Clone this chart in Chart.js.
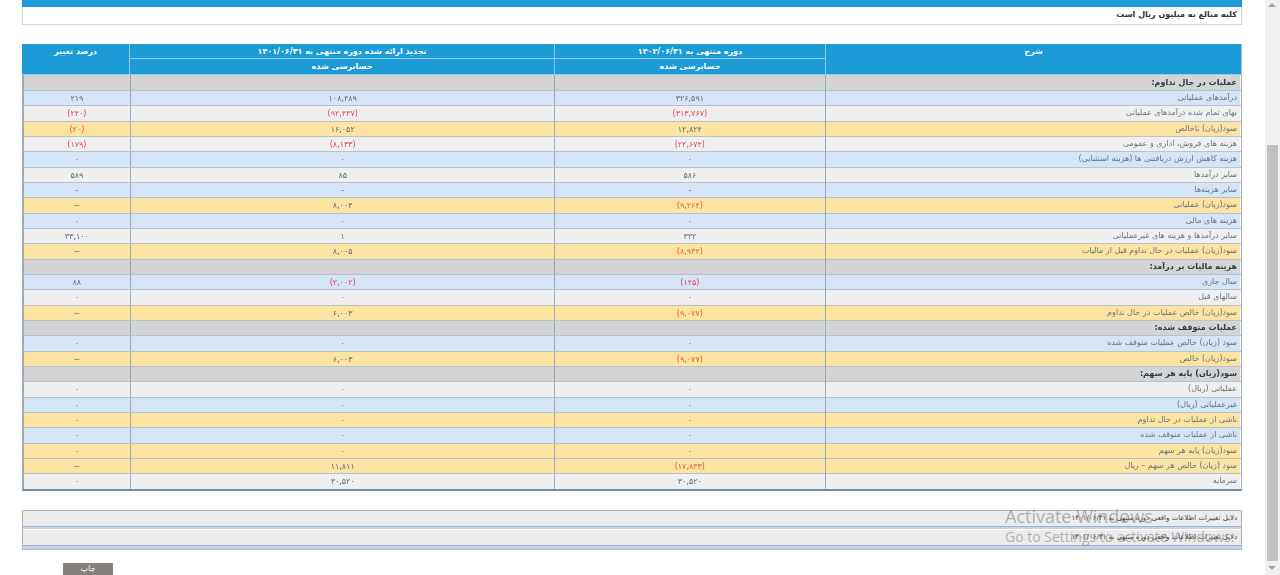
<!DOCTYPE html>
<html lang="fa">
<head>
<meta charset="utf-8">
<script src="https://cdn.jsdelivr.net/npm/chart.js@4/dist/chart.umd.min.js"></script>
<style>
  html, body { margin: 0; padding: 0; background: #fff; }
  body { width: 1280px; height: 575px; overflow: hidden; position: relative; font-family: "DejaVu Sans", Tahoma, sans-serif; }
  .abs { position: absolute; box-sizing: border-box; }
  .topbar { left: 22px; top: 0; width: 1220px; height: 7px; background: #1c9bd7; }
  .unitbox { left: 22px; top: 7px; width: 1220px; height: 18px; border: 1px solid #d4d4d4; border-top: 0; direction: rtl; font-size: 8px; font-weight: bold; color: #333; padding: 3px 4px 0 0; }
  .hd { background: #1c9bd7; color: #fff; font-size: 8px; font-weight: bold; text-align: center; direction: rtl; border-right: 1px solid #8fcbea; border-bottom: 1px solid #8fcbea; }
  .frame { left: 22px; top: 75px; width: 1220px; height: 416px; border-left: 1px solid #a9b4be; border-right: 1px solid #a9b4be; border-bottom: 2px solid #6d8fae; }
  .notes { left: 22px; top: 510px; width: 1220px; height: 40px; border: 1px solid #b5b5b5; }
  .note { position: absolute; left: 0; width: 100%; height: 15px; background: #ececec; direction: rtl; font-size: 7px; color: #444; padding: 3px 4px 0 0; box-sizing: border-box; }
  .noteline { position: absolute; left: 0; width: 100%; height: 3px; background: #c3d3e8; border-top: 1px solid #9db3cf; box-sizing: border-box; }
  .wm1 { left: 1005px; top: 504px; font-family: "Open Sans", sans-serif; font-size: 18px; color: rgba(120,120,120,0.55); }
  .wm2 { left: 1005px; top: 527px; font-family: "Open Sans", sans-serif; font-size: 14px; color: rgba(120,120,120,0.55); }
  .sbar { left: 1265px; top: 0; width: 15px; height: 575px; background: #f1f1f1; }
  .sthumb { left: 1267px; top: 145px; width: 11px; height: 416px; background: #c1c1c1; }
  .arrow { left: 1268px; width: 0; height: 0; border-left: 4px solid transparent; border-right: 4px solid transparent; }
  .btn { left: 63px; top: 563px; width: 50px; height: 14px; background: #858079; color: #fff; font-size: 8px; text-align: center; padding-top: 1px; }
</style>
</head>
<body>
<div class="abs topbar"></div>
<div class="abs unitbox">کلیه مبالغ به میلیون ریال است</div>

<div class="abs hd" style="left:826px;top:44px;width:416px;height:31px;line-height:16px;">شرح</div>
<div class="abs hd" style="left:555px;top:44px;width:271px;height:15px;line-height:15px;">دوره منتهی به ۱۴۰۲/۰۶/۳۱</div>
<div class="abs hd" style="left:555px;top:59px;width:271px;height:16px;line-height:15px;">حسابرسی شده</div>
<div class="abs hd" style="left:130px;top:44px;width:425px;height:15px;line-height:15px;">تجدید ارائه شده دوره منتهی به ۱۴۰۱/۰۶/۳۱</div>
<div class="abs hd" style="left:130px;top:59px;width:425px;height:16px;line-height:15px;">حسابرسی شده</div>
<div class="abs hd" style="left:22px;top:44px;width:108px;height:31px;line-height:16px;">درصد تغییر</div>

<div class="abs frame"><canvas id="statement" dir="rtl"></canvas></div>

<div class="abs notes">
  <div class="note" style="top:0;">دلایل تغییرات اطلاعات واقعی دوره منتهی به ۱۴۰۱/۰۶/۳۱</div>
  <div class="noteline" style="top:15px;"></div>
  <div class="note" style="top:19px;">دلایل تغییرات اطلاعات واقعی دوره منتهی به ۱۴۰۱/۰۶/۳۱</div>
  <div class="noteline" style="top:34px;height:4px;"></div>
</div>
<div class="abs wm1">Activate Windows</div>
<div class="abs wm2">Go to Settings to activate Windows.</div>

<div class="abs sbar"></div>
<div class="abs sthumb"></div>
<div class="abs arrow" style="top:3px;border-bottom:4px solid #a3a3a3;"></div>
<div class="abs arrow" style="top:566px;border-top:4px solid #a3a3a3;"></div>
<div class="abs btn">چاپ</div>

<script>
'use strict';

const ROW_LABELS = [
  'عملیات در حال تداوم:',
  'درآمدهای عملیاتی',
  'بهای تمام شده درآمدهای عملیاتی',
  'سود(زیان) ناخالص',
  'هزینه های فروش، اداری و عمومی',
  'هزینه کاهش ارزش دریافتنی ها (هزینه استثنایی)',
  'سایر درآمدها',
  'سایر هزینه‌ها',
  'سود(زیان) عملیاتی',
  'هزینه های مالی',
  'سایر درآمدها و هزینه های غیرعملیاتی',
  'سود(زیان) عملیات در حال تداوم قبل از مالیات',
  'هزینه مالیات بر درآمد:',
  'سال جاری',
  'سالهای قبل',
  'سود(زیان) خالص عملیات در حال تداوم',
  'عملیات متوقف شده:',
  'سود (زیان) خالص عملیات متوقف شده',
  'سود(زیان) خالص',
  'سود(زیان) پایه هر سهم:',
  'عملیاتی (ریال)',
  'غیرعملیاتی (ریال)',
  'ناشی از عملیات در حال تداوم',
  'ناشی از عملیات متوقف شده',
  'سود(زیان) پایه هر سهم',
  'سود (زیان) خالص هر سهم – ریال',
  'سرمایه',
];

const ROW_KINDS = [
  'section', 'blue', 'gray', 'total', 'gray', 'blue', 'gray', 'blue', 'total', 'blue',
  'gray', 'total', 'section', 'blue', 'gray', 'total', 'section', 'blue', 'total', 'section',
  'gray', 'blue', 'total', 'blue', 'total', 'total', 'gray',
];

// دوره منتهی به ۱۴۰۲/۰۶/۳۱
const CURRENT_PERIOD = [
  '', '۳۲۶,۵۹۱', '(۳۱۳,۷۶۷)', '۱۲,۸۲۴', '(۲۲,۶۷۴)', '۰', '۵۸۶', '-', '(۹,۲۶۴)', '۰',
  '۳۳۲', '(۸,۹۳۲)', '', '(۱۴۵)', '۰', '(۹,۰۷۷)', '', '۰', '(۹,۰۷۷)', '',
  '۰', '۰', '۰', '۰', '۰', '(۱۷,۸۳۳)', '۳۰,۵۲۰',
];

// تجدید ارائه شده دوره منتهی به ۱۴۰۱/۰۶/۳۱
const PRIOR_PERIOD = [
  '', '۱۰۸,۴۸۹', '(۹۲,۴۳۷)', '۱۶,۰۵۲', '(۸,۱۳۳)', '۰', '۸۵', '-', '۸,۰۰۴', '۰',
  '۱', '۸,۰۰۵', '', '(۲,۰۰۲)', '۰', '۶,۰۰۳', '', '۰', '۶,۰۰۳', '',
  '۰', '۰', '۰', '۰', '۰', '۱۱,۸۱۱', '۳۰,۵۲۰',
];

// درصد تغییر
const CHANGE_PCT = [
  '', '۲۱۹', '(۲۴۰)', '(۲۰)', '(۱۷۹)', '۰', '۵۸۹', '-', '--', '۰',
  '۳۳,۱۰۰', '--', '', '۸۸', '۰', '--', '', '۰', '--', '',
  '۰', '۰', '۰', '۰', '۰', '--', '۰',
];

// column layout, left to right in pixels of the value area
const COLUMN_EDGES = [0, 108, 533, 804];
const DESC_WIDTH = 416;
const VALUE_COLUMNS = [CHANGE_PCT, PRIOR_PERIOD, CURRENT_PERIOD];

const FILL = { section: '#d4d4d4', blue: '#d5e5f5', gray: '#efefef', total: '#fde3a1' };
const FONT = 'DejaVu Sans';

const cellText = {
  id: 'cellText',
  afterDatasetsDraw(chart) {
    const { ctx, scales: { x, y } } = chart;
    ctx.save();
    ctx.font = `8px "${FONT}"`;
    ctx.textAlign = 'center';
    ctx.textBaseline = 'middle';
    ctx.direction = 'ltr';
    VALUE_COLUMNS.forEach((column, c) => {
      const cx = x.getPixelForValue((COLUMN_EDGES[c] + COLUMN_EDGES[c + 1]) / 2);
      column.forEach((text, i) => {
        if (!text) return;
        const negative = text.startsWith('(');
        ctx.fillStyle = negative ? (ROW_KINDS[i] === 'total' ? '#e0603c' : '#e2455e') : '#5f6b78';
        ctx.fillText(text, cx, y.getPixelForValue(i) + 1);
      });
    });
    ctx.restore();
  },
};

const canvas = document.getElementById('statement');
canvas.width = 1218;
canvas.height = 414;

new Chart(canvas.getContext('2d'), {
  type: 'bar',
  data: {
    labels: ROW_LABELS,
    datasets: [{
      data: ROW_LABELS.map(() => [0, COLUMN_EDGES[3] + DESC_WIDTH]),
      backgroundColor: ROW_KINDS.map(kind => FILL[kind]),
      borderWidth: 0,
      barPercentage: 1,
      categoryPercentage: 1,
      clip: false,
    }],
  },
  options: {
    indexAxis: 'y',
    responsive: false,
    animation: false,
    events: [],
    layout: { padding: { top: 0, right: 4, bottom: 0, left: 0 } },
    plugins: { legend: { display: false }, tooltip: { enabled: false } },
    scales: {
      x: {
        type: 'linear',
        min: 0,
        max: COLUMN_EDGES[3],
        afterBuildTicks: scale => { scale.ticks = COLUMN_EDGES.map(value => ({ value })); },
        afterFit: scale => { scale.height = 0; scale.paddingLeft = 0; scale.paddingRight = 0; },
        ticks: { display: false, z: 1 },
        grid: { color: '#9ba6b0', drawTicks: false, lineWidth: 1, z: 1 },
        border: { display: false, z: 1 },
      },
      y: {
        type: 'category',
        position: 'right',
        offset: true,
        afterFit: scale => {
          scale.width = DESC_WIDTH - 4;
          scale.paddingTop = 0;
          scale.paddingBottom = 0;
        },
        grid: { color: '#b4c3d2', tickLength: DESC_WIDTH + 10, offset: true, z: 1 },
        border: { color: '#9ba6b0', z: 1 },
        ticks: {
          z: 2,
          autoSkip: false,
          crossAlign: 'far',
          padding: 0,
          color: ctx => ROW_KINDS[ctx.index] === 'section' ? '#2f3b48' : '#6a7480',
          font: ctx => ({ family: FONT, size: 8, weight: ROW_KINDS[ctx.index] === 'section' ? 'bold' : 'normal' }),
        },
      },
    },
  },
  plugins: [cellText],
});
</script>
</body>
</html>
